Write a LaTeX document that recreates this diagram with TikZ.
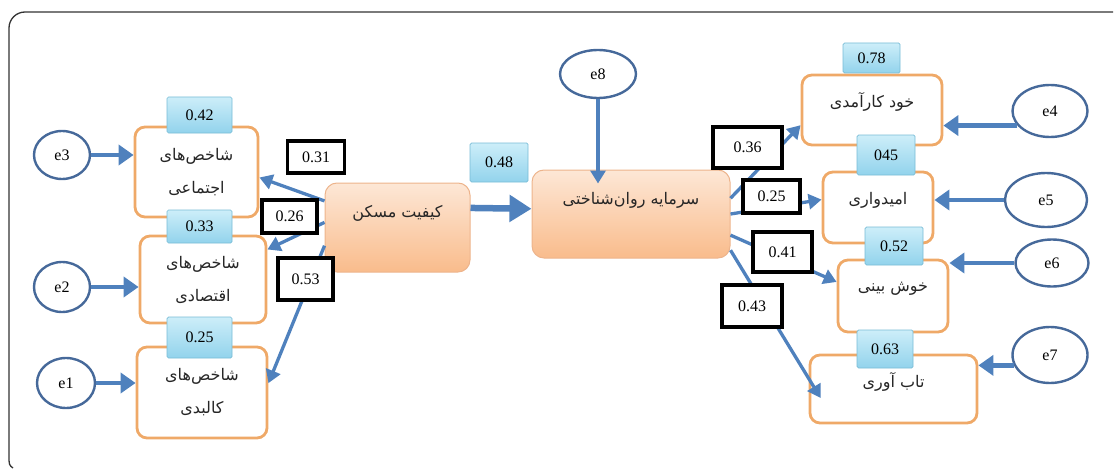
\documentclass[tikz,border=0pt]{standalone}
\usepackage{fontspec}
\setmainfont{Liberation Serif}
\newfontfamily\fafont[Script=Arabic]{DejaVu Sans}
\TeXXeTstate=1
\usetikzlibrary{arrows.meta,shapes.geometric}
\newcommand\fatxt[1]{\beginR #1\endR}
\definecolor{arrowblue}{HTML}{4F81BD}
\definecolor{ellblue}{HTML}{46699A}
\definecolor{boxorange}{HTML}{EFA968}
\definecolor{lbltop}{HTML}{CDEEF9}
\definecolor{lblbot}{HTML}{92D3EC}
\definecolor{lblborder}{HTML}{78BCD6}
\definecolor{lattop}{HTML}{FDE7D6}
\definecolor{latbot}{HTML}{F9BC8C}
\definecolor{latborder}{HTML}{EDB48C}
\begin{document}
\begin{tikzpicture}[x=1pt,y=-1pt,
  ind/.style={rectangle,draw=boxorange,line width=2.8pt,rounded corners=10pt,fill=white},
  err/.style={ellipse,draw=ellblue,line width=2.4pt,fill=white,inner sep=0pt,font=\fontsize{16}{18}\selectfont},
  coef/.style={rectangle,draw=black,line width=3.2pt,fill=white,inner sep=0pt,font=\fontsize{16}{18}\selectfont},
  rsq/.style={rectangle,draw=lblborder,line width=0.7pt,rounded corners=1.5pt,top color=lbltop,bottom color=lblbot,inner sep=0pt,font=\fontsize{16}{18}\selectfont},
  lat/.style={rectangle,draw=latborder,line width=1pt,rounded corners=12pt,top color=lattop,bottom color=latbot},
  fa/.style={font=\fafont\fontsize{16}{33}\selectfont,align=center,text=black!85},
  earr/.style={draw=arrowblue,line width=4.8pt,-{Triangle[length=15pt,width=20pt]}},
  darr/.style={draw=arrowblue,line width=3.3pt,-{Triangle[length=13pt,width=15pt]}},
  barr/.style={draw=arrowblue,line width=6.5pt,-{Triangle[length=22pt,width=26pt]}}]
\useasboundingbox (0,0) rectangle (1115,468);
\draw[line width=1.3pt,black!80] (13,468) .. controls (9,465) .. (9,455) [rounded corners=16pt] -- (9,12) -- (1113,12);

% left indicator boxes
\node[ind,minimum width=123,minimum height=90] (b1) at (196.5,172) {};
\node[fa] at (b1.center) {\fatxt{شاخص‌های}\\\fatxt{اجتماعی}};
\node[ind,minimum width=126,minimum height=87] (b2) at (203,279.5) {};
\node[fa] at (b2.center) {\fatxt{شاخص‌های}\\\fatxt{اقتصادی}};
\node[ind,minimum width=130,minimum height=91] (b3) at (202,392.5) {};
\node[fa] at (b3.center) {\fatxt{شاخص‌های}\\\fatxt{کالبدی}};

% error ellipses left
\node[err,minimum width=56,minimum height=48] (e3) at (62,155) {e3};
\node[err,minimum width=56,minimum height=50] (e2) at (62,287) {e2};
\node[err,minimum width=58,minimum height=50] (e1) at (66,383) {e1};

% latent boxes
\node[lat,minimum width=145,minimum height=89] (km) at (397.5,227.5) {};
\node[fa] at ([yshift=14pt]km.center) {\fatxt{کیفیت مسکن}};
\node[lat,minimum width=198,minimum height=88] (ps) at (631,214) {};
\node[fa] at ([yshift=14pt]ps.center) {\fatxt{سرمایه روان‌شناختی}};
\node[err,minimum width=76,minimum height=48] (e8) at (598,74) {e8};

% right indicator boxes
\node[ind,minimum width=140,minimum height=70] (r1) at (872,110) {};
\node[fa] at ([yshift=8pt]r1.center) {\fatxt{خود کارآمدی}};
\node[ind,minimum width=110,minimum height=71] (r2) at (878,207.5) {};
\node[fa] at ([yshift=7pt]r2.center) {\fatxt{امیدواری}};
\node[ind,minimum width=110,minimum height=72] (r3) at (893,296) {};
\node[fa] at ([yshift=7pt]r3.center) {\fatxt{خوش بینی}};
\node[ind,minimum width=167,minimum height=68] (r4) at (893.5,389) {};
\node[fa] at ([yshift=7pt]r4.center) {\fatxt{تاب آوری}};

% error ellipses right
\node[err,minimum width=75,minimum height=52] (e4) at (1050,111) {e4};
\node[err,minimum width=82,minimum height=54] (e5) at (1046,200) {e5};
\node[err,minimum width=73,minimum height=47] (e6) at (1052,263) {e6};
\node[err,minimum width=75,minimum height=56] (e7) at (1050,355) {e7};

% arrows from errors
\draw[earr] (e3.east) -- (e3.east -| b1.west);
\draw[earr] (e2.east) -- (e2.east -| b2.west);
\draw[earr] (e1.east) -- (e1.east -| b3.west);
\draw[earr] (e4.204) -- (e4.204 -| r1.east);
\draw[earr] (e5.west) -- (e5.west -| r2.east);
\draw[earr] (e6.west) -- (e6.west -| r3.east);
\draw[earr] (e7.196) -- (e7.196 -| r4.east);
\draw[darr] (e8.south) -- ([yshift=-14pt]e8.south |- ps.north);

% structural arrows
\draw[darr] (km.160) -- (b1.-5);
\draw[darr] (km.176) -- (b2.25);
\draw[darr] (km.194) -- (b3.8);
\draw[barr] (km.15) -- (ps.177);
\draw[darr] (ps.9) -- (r1.192);
\draw[darr] (ps.0) -- (r2.172);
\draw[darr] (ps.-12) -- (r3.166);
\draw[darr] (ps.-20) -- ([shift={(12,9)}]r4.west);

% R-squared labels
\node[rsq,minimum width=65,minimum height=36] (l1) at (199.5,115) {0.42};
\node[rsq,minimum width=65,minimum height=33] (l2) at (199.5,226.5) {0.33};
\node[rsq,minimum width=65,minimum height=41] (l3) at (199.5,337.5) {0.25};
\node[rsq,minimum width=58,minimum height=39] (l4) at (499,162.5) {0.48};
\node[rsq,minimum width=57,minimum height=30] (l5) at (871.5,58) {0.78};
\node[rsq,minimum width=58,minimum height=40] (l6) at (886,155) {045};
\node[rsq,minimum width=58,minimum height=38] (l7) at (894,246) {0.52};
\node[rsq,minimum width=56,minimum height=38] (l8) at (885,349) {0.63};

% path coefficients
\node[coef,minimum width=57,minimum height=32] (c1) at (316,157) {0.31};
\node[coef,minimum width=55,minimum height=33] (c2) at (289.5,216.5) {0.26};
\node[coef,minimum width=55,minimum height=42] (c3) at (305.5,279) {0.53};
\node[coef,minimum width=69,minimum height=41] (c4) at (747.5,147.5) {0.36};
\node[coef,minimum width=57,minimum height=33] (c5) at (771.5,196.5) {0.25};
\node[coef,minimum width=59,minimum height=40] (c6) at (782.5,252) {0.41};
\node[coef,minimum width=60,minimum height=42] (c7) at (752,306) {0.43};
\end{tikzpicture}
\end{document}
